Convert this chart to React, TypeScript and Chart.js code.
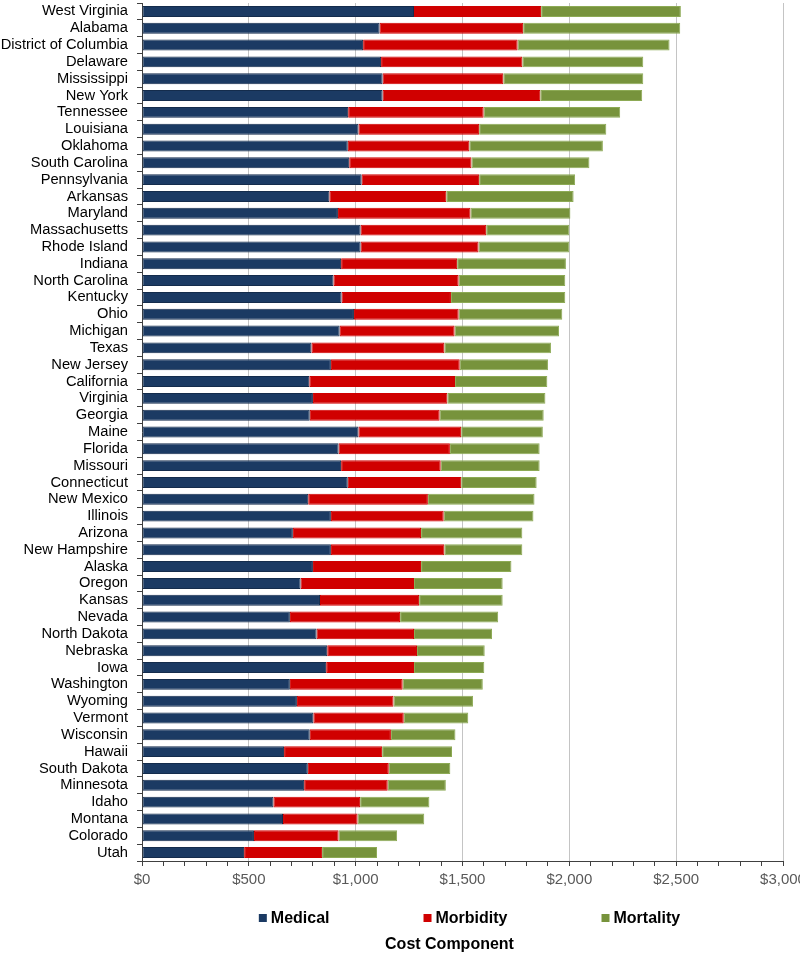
import React, { useEffect, useRef } from "react";
import { Chart, registerables } from "chart.js";

Chart.register(...registerables);

const states = [
  "West Virginia", "Alabama", "District of Columbia", "Delaware", "Mississippi", "New York",
  "Tennessee", "Louisiana", "Oklahoma", "South Carolina", "Pennsylvania", "Arkansas", "Maryland",
  "Massachusetts", "Rhode Island", "Indiana", "North Carolina", "Kentucky", "Ohio", "Michigan",
  "Texas", "New Jersey", "California", "Virginia", "Georgia", "Maine", "Florida", "Missouri",
  "Connecticut", "New Mexico", "Illinois", "Arizona", "New Hampshire", "Alaska", "Oregon",
  "Kansas", "Nevada", "North Dakota", "Nebraska", "Iowa", "Washington", "Wyoming", "Vermont",
  "Wisconsin", "Hawaii", "South Dakota", "Minnesota", "Idaho", "Montana", "Colorado", "Utah",
];

const medical = [
  1273, 1112, 1035, 1119, 1126, 1126, 965, 1013, 963, 970, 1028, 877, 917,
  1023, 1023, 932, 896, 934, 992, 925, 793, 884, 783, 800, 785, 1013, 920, 932,
  963, 778, 884, 706, 884, 800, 742, 833, 692, 817, 867, 862, 692, 725, 802,
  785, 665, 776, 759, 615, 660, 524, 478,
];

const morbidity = [
  595, 672, 723, 661, 565, 738, 634, 565, 569, 572, 550, 547, 620,
  588, 552, 543, 586, 512, 490, 538, 622, 603, 682, 629, 608, 481, 521, 466,
  531, 560, 528, 600, 531, 506, 531, 464, 516, 456, 420, 411, 528, 452, 423,
  380, 459, 379, 391, 406, 349, 396, 365,
];

const mortality = [
  654, 735, 711, 566, 655, 477, 639, 595, 625, 552, 449, 596, 468,
  389, 425, 509, 499, 535, 485, 489, 499, 413, 432, 459, 487, 382, 420, 463,
  353, 499, 420, 474, 365, 423, 415, 391, 459, 365, 317, 329, 375, 372, 302,
  302, 327, 288, 272, 324, 312, 274, 257,
];

const seriesNames = ["Medical", "Morbidity", "Mortality"];
const seriesColors = ["#1B3A63", "#D00000", "#77933C"];
const seriesBorders = ["#142C4C", "#D00000", "#8DAA55"];
const legendTitle = "Cost Component";

const xMax = 3000;
const xStep = 100;
const xMajor = 500;

const FONT = "'Liberation Sans', Arial, sans-serif";

const legendPlugin = {
  id: "customLegend",
  afterDraw(chart: any) {
    const { ctx, chartArea } = chart;
    const center = (chartArea.left + chartArea.right) / 2;
    ctx.save();
    ctx.font = `bold 16px ${FONT}`;
    ctx.textBaseline = "middle";
    ctx.textAlign = "left";
    const box = 8;
    const gapBoxText = 4;
    const gapItems = 94;
    const items = chart.data.datasets.map((d: any) => ({
      label: d.label,
      color: d.backgroundColor,
      w: box + gapBoxText + ctx.measureText(d.label).width,
    }));
    const total = items.reduce((s: number, it: any) => s + it.w, 0) + gapItems * (items.length - 1);
    let x = center + 7 - total / 2;
    const y = 918;
    items.forEach((it: any) => {
      ctx.fillStyle = it.color;
      ctx.fillRect(x, y - box / 2, box, box);
      ctx.fillStyle = "#000000";
      ctx.fillText(it.label, x + box + gapBoxText, y + 1);
      x += it.w + gapItems;
    });
    ctx.textAlign = "center";
    ctx.fillText(legendTitle, center - 13, 945);
    ctx.restore();
  },
};

export default function App() {
  const ref = useRef<HTMLCanvasElement | null>(null);

  useEffect(() => {
    if (!ref.current) return;
    const values = [medical, morbidity, mortality];
    const chart = new Chart(ref.current, {
      type: "bar",
      data: {
        labels: states,
        datasets: seriesNames.map((name, i) => ({
          label: name,
          data: values[i],
          backgroundColor: seriesColors[i],
          borderColor: seriesBorders[i],
          borderWidth: 1,
          borderSkipped: false,
          barPercentage: 0.65,
          categoryPercentage: 1,
        })),
      },
      options: {
        indexAxis: "y",
        animation: false,
        responsive: true,
        maintainAspectRatio: false,
        layout: { padding: { top: 3, right: 17, bottom: 60, left: 0 } },
        plugins: {
          legend: { display: false },
          tooltip: { enabled: false },
          title: { display: false },
        },
        scales: {
          x: {
            stacked: true,
            min: 0,
            max: xMax,
            afterFit: (scale: any) => {
              scale.height = 35;
              scale.paddingRight = 0;
              scale.paddingLeft = 0;
            },
            ticks: {
              stepSize: xStep,
              autoSkip: false,
              maxRotation: 0,
              padding: 5,
              color: "#595959",
              font: { family: FONT, size: 15 },
              callback: (v: any) =>
                Number(v) % xMajor === 0 ? "$" + Number(v).toLocaleString("en-US") : "",
            },
            grid: {
              color: (c: any) =>
                c.tick && c.tick.value % xMajor === 0 && c.tick.value !== 0 ? "#C4C4C4" : "rgba(0,0,0,0)",
              tickColor: "#404040",
              tickLength: 5,
              lineWidth: 1,
            },
            border: { display: true, color: "#404040", width: 1 },
          },
          y: {
            stacked: true,
            afterFit: (scale: any) => {
              scale.width = 142;
              scale.paddingTop = 0;
              scale.paddingBottom = 0;
            },
            ticks: {
              autoSkip: false,
              padding: 9,
              color: "#000000",
              font: { family: FONT, size: 14.7 },
            },
            grid: {
              drawOnChartArea: false,
              drawTicks: true,
              tickLength: 5,
              tickColor: "#404040",
              offset: true,
            },
            border: { display: true, color: "#404040", width: 1 },
          },
        },
      },
      plugins: [legendPlugin],
    });
    return () => chart.destroy();
  }, []);

  return (
    <div style={{ position: "absolute", left: 0, top: 0, width: 800, height: 956, background: "#ffffff" }}>
      <canvas ref={ref} />
    </div>
  );
}
